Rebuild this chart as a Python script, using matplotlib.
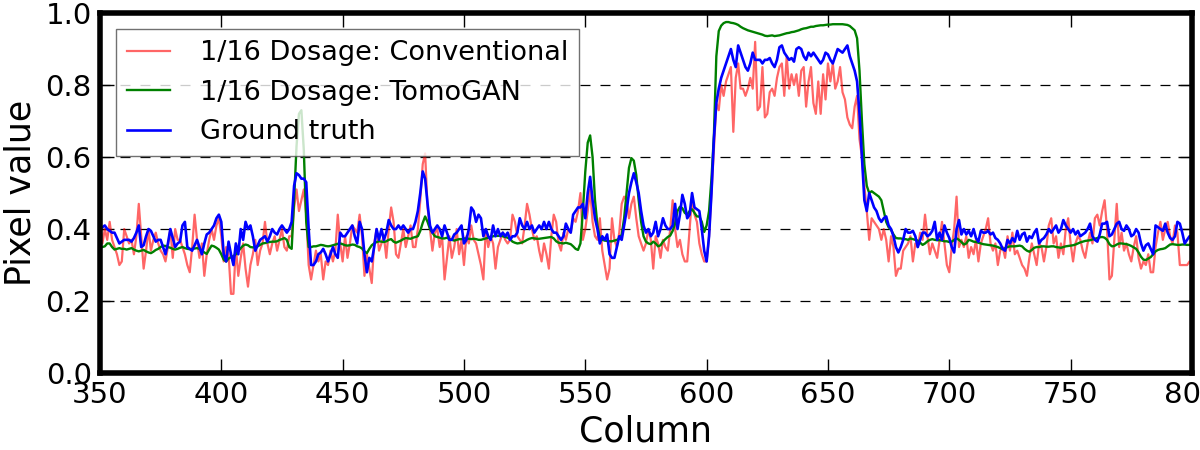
import numpy as np
import matplotlib
matplotlib.use("Agg")
import matplotlib.pyplot as plt

# pixel values along one row, columns 350..800
conventional = [
    0.43, 0.36, 0.40, 0.37, 0.42, 0.37, 0.35, 0.33, 0.30, 0.31,
    0.40, 0.38, 0.36, 0.37, 0.33, 0.38, 0.47, 0.38, 0.29, 0.34,
    0.40, 0.34, 0.37, 0.39, 0.36, 0.34, 0.33, 0.31, 0.35, 0.40,
    0.32, 0.40, 0.37, 0.37, 0.35, 0.33, 0.30, 0.28, 0.35, 0.44,
    0.37, 0.32, 0.36, 0.27, 0.33, 0.37, 0.40, 0.37, 0.41, 0.43,
    0.38, 0.31, 0.35, 0.33, 0.22, 0.22, 0.35, 0.27, 0.32, 0.36,
    0.29, 0.24, 0.30, 0.33, 0.37, 0.30, 0.34, 0.36, 0.42, 0.36,
    0.33, 0.36, 0.38, 0.34, 0.37, 0.40, 0.35, 0.34, 0.38, 0.38,
    0.46, 0.51, 0.45, 0.48, 0.51, 0.44, 0.30, 0.26, 0.30, 0.34,
    0.31, 0.33, 0.26, 0.31, 0.30, 0.34, 0.31, 0.34, 0.44, 0.36,
    0.31, 0.38, 0.32, 0.36, 0.41, 0.40, 0.39, 0.44, 0.38, 0.27,
    0.33, 0.29, 0.25, 0.36, 0.40, 0.34, 0.36, 0.38, 0.32, 0.40,
    0.46, 0.42, 0.33, 0.32, 0.36, 0.40, 0.35, 0.38, 0.41, 0.35,
    0.35, 0.40, 0.48, 0.58, 0.61, 0.46, 0.40, 0.34, 0.39, 0.40,
    0.35, 0.38, 0.26, 0.32, 0.38, 0.32, 0.35, 0.40, 0.33, 0.37,
    0.30, 0.38, 0.36, 0.41, 0.37, 0.36, 0.33, 0.30, 0.26, 0.40,
    0.35, 0.38, 0.36, 0.29, 0.35, 0.37, 0.39, 0.37, 0.36, 0.37,
    0.44, 0.42, 0.38, 0.37, 0.36, 0.41, 0.47, 0.44, 0.40, 0.37,
    0.38, 0.34, 0.31, 0.36, 0.33, 0.29, 0.38, 0.44, 0.42, 0.36,
    0.34, 0.39, 0.37, 0.40, 0.39, 0.43, 0.42, 0.45, 0.50, 0.37,
    0.40, 0.45, 0.51, 0.42, 0.38, 0.37, 0.43, 0.34, 0.30, 0.26,
    0.29, 0.43, 0.37, 0.35, 0.39, 0.47, 0.49, 0.48, 0.43, 0.47,
    0.49, 0.43, 0.38, 0.36, 0.34, 0.36, 0.40, 0.37, 0.29, 0.38,
    0.36, 0.32, 0.37, 0.35, 0.34, 0.40, 0.48, 0.40, 0.35, 0.37,
    0.33, 0.31, 0.31, 0.40, 0.49, 0.44, 0.42, 0.36, 0.33, 0.31,
    0.31, 0.38, 0.50, 0.62, 0.75, 0.73, 0.80, 0.77, 0.81, 0.83,
    0.85, 0.67, 0.82, 0.86, 0.79, 0.79, 0.77, 0.79, 0.82, 0.79,
    0.92, 0.73, 0.74, 0.85, 0.71, 0.72, 0.78, 0.79, 0.77, 0.82,
    0.85, 0.86, 0.77, 0.88, 0.79, 0.83, 0.80, 0.83, 0.77, 0.84,
    0.85, 0.74, 0.81, 0.85, 0.75, 0.72, 0.81, 0.72, 0.83, 0.76,
    0.86, 0.81, 0.86, 0.79, 0.81, 0.85, 0.78, 0.76, 0.71, 0.69,
    0.68, 0.74, 0.77, 0.65, 0.60, 0.52, 0.45, 0.37, 0.43, 0.42,
    0.41, 0.40, 0.37, 0.40, 0.37, 0.31, 0.38, 0.35, 0.27, 0.29,
    0.29, 0.34, 0.35, 0.36, 0.38, 0.31, 0.36, 0.35, 0.39, 0.37,
    0.44, 0.38, 0.33, 0.36, 0.34, 0.32, 0.37, 0.42, 0.36, 0.30,
    0.28, 0.35, 0.40, 0.49, 0.35, 0.37, 0.35, 0.38, 0.32, 0.35,
    0.33, 0.37, 0.31, 0.36, 0.38, 0.40, 0.43, 0.36, 0.34, 0.36,
    0.30, 0.34, 0.35, 0.32, 0.38, 0.34, 0.39, 0.33, 0.34, 0.32,
    0.30, 0.29, 0.27, 0.32, 0.36, 0.33, 0.30, 0.36, 0.35, 0.31,
    0.35, 0.41, 0.43, 0.36, 0.38, 0.32, 0.36, 0.33, 0.40, 0.43,
    0.36, 0.31, 0.36, 0.38, 0.37, 0.34, 0.32, 0.36, 0.39, 0.36,
    0.43, 0.44, 0.41, 0.45, 0.48, 0.40, 0.26, 0.27, 0.37, 0.47,
    0.35, 0.39, 0.34, 0.36, 0.33, 0.31, 0.35, 0.38, 0.32, 0.29,
    0.31, 0.30, 0.33, 0.28, 0.28, 0.35, 0.39, 0.42, 0.37, 0.40,
    0.42, 0.38, 0.36, 0.41, 0.39, 0.30, 0.30, 0.30, 0.30, 0.31,
    0.30,
]

tomogan = [
    0.350, 0.350, 0.352, 0.360, 0.360, 0.350, 0.343, 0.345, 0.347, 0.345,
    0.345, 0.343, 0.345, 0.347, 0.343, 0.340, 0.338, 0.340, 0.342, 0.338,
    0.335, 0.333, 0.337, 0.342, 0.345, 0.350, 0.354, 0.353, 0.350, 0.348,
    0.345, 0.343, 0.345, 0.348, 0.350, 0.347, 0.345, 0.344, 0.345, 0.346,
    0.347, 0.345, 0.340, 0.335, 0.331, 0.343, 0.354, 0.352, 0.348, 0.343,
    0.330, 0.315, 0.310, 0.318, 0.322, 0.325, 0.330, 0.338, 0.347, 0.354,
    0.357, 0.355, 0.350, 0.349, 0.350, 0.352, 0.356, 0.360, 0.361, 0.363,
    0.364, 0.365, 0.365, 0.366, 0.370, 0.372, 0.375, 0.370, 0.350, 0.345,
    0.480, 0.630, 0.720, 0.730, 0.620, 0.420, 0.350, 0.350, 0.352, 0.352,
    0.354, 0.356, 0.355, 0.353, 0.352, 0.353, 0.355, 0.357, 0.359, 0.360,
    0.358, 0.355, 0.354, 0.355, 0.357, 0.356, 0.352, 0.350, 0.346, 0.338,
    0.333, 0.345, 0.355, 0.360, 0.364, 0.366, 0.365, 0.364, 0.366, 0.370,
    0.372, 0.365, 0.362, 0.365, 0.368, 0.372, 0.375, 0.374, 0.373, 0.376,
    0.378, 0.380, 0.395, 0.417, 0.435, 0.420, 0.400, 0.390, 0.380, 0.378,
    0.376, 0.374, 0.374, 0.376, 0.372, 0.370, 0.368, 0.370, 0.372, 0.372,
    0.374, 0.374, 0.373, 0.372, 0.373, 0.372, 0.370, 0.370, 0.372, 0.374,
    0.376, 0.378, 0.380, 0.381, 0.381, 0.382, 0.380, 0.378, 0.376, 0.372,
    0.365, 0.362, 0.360, 0.361, 0.363, 0.366, 0.370, 0.373, 0.375, 0.374,
    0.373, 0.373, 0.374, 0.375, 0.376, 0.377, 0.378, 0.374, 0.366, 0.362,
    0.361, 0.360, 0.362, 0.360, 0.358, 0.352, 0.345, 0.342, 0.360, 0.450,
    0.560, 0.640, 0.660, 0.600, 0.480, 0.410, 0.375, 0.370, 0.368, 0.367,
    0.366, 0.366, 0.368, 0.370, 0.373, 0.385, 0.430, 0.500, 0.570, 0.597,
    0.590, 0.550, 0.480, 0.420, 0.380, 0.365, 0.360, 0.358, 0.365, 0.360,
    0.352, 0.355, 0.365, 0.372, 0.378, 0.382, 0.395, 0.415, 0.450, 0.462,
    0.458, 0.445, 0.440, 0.450, 0.455, 0.445, 0.435, 0.435, 0.420, 0.392,
    0.410, 0.450, 0.540, 0.660, 0.880, 0.950, 0.965, 0.972, 0.975, 0.975,
    0.973, 0.972, 0.970, 0.967, 0.962, 0.958, 0.955, 0.952, 0.950, 0.948,
    0.946, 0.944, 0.942, 0.940, 0.937, 0.936, 0.937, 0.938, 0.936, 0.937,
    0.938, 0.940, 0.942, 0.944, 0.945, 0.947, 0.948, 0.950, 0.952, 0.955,
    0.957, 0.958, 0.960, 0.962, 0.962, 0.964, 0.965, 0.966, 0.966, 0.967,
    0.968, 0.968, 0.969, 0.969, 0.969, 0.969, 0.969, 0.968, 0.967, 0.964,
    0.958, 0.952, 0.930, 0.840, 0.700, 0.580, 0.520, 0.500, 0.505, 0.500,
    0.495, 0.490, 0.480, 0.450, 0.420, 0.405, 0.398, 0.385, 0.375, 0.374,
    0.374, 0.372, 0.372, 0.370, 0.374, 0.372, 0.370, 0.368, 0.362, 0.356,
    0.360, 0.366, 0.370, 0.372, 0.370, 0.369, 0.369, 0.368, 0.366, 0.366,
    0.364, 0.365, 0.370, 0.374, 0.370, 0.364, 0.357, 0.360, 0.370, 0.368,
    0.365, 0.364, 0.362, 0.360, 0.358, 0.357, 0.356, 0.355, 0.354, 0.352,
    0.350, 0.347, 0.344, 0.347, 0.350, 0.352, 0.352, 0.352, 0.353, 0.354,
    0.352, 0.345, 0.340, 0.337, 0.342, 0.348, 0.350, 0.350, 0.352, 0.352,
    0.351, 0.351, 0.352, 0.352, 0.350, 0.349, 0.348, 0.350, 0.352, 0.353,
    0.354, 0.355, 0.357, 0.360, 0.363, 0.365, 0.367, 0.368, 0.369, 0.371,
    0.373, 0.375, 0.377, 0.378, 0.376, 0.370, 0.358, 0.352, 0.353, 0.357,
    0.360, 0.360, 0.359, 0.358, 0.356, 0.353, 0.349, 0.345, 0.335, 0.323,
    0.315, 0.314, 0.318, 0.322, 0.330, 0.338, 0.342, 0.344, 0.345, 0.347,
    0.352, 0.357, 0.358, 0.357, 0.356, 0.356, 0.357, 0.357, 0.356, 0.356,
    0.357,
]

ground_truth = [
    0.400, 0.405, 0.410, 0.400, 0.395, 0.390, 0.390, 0.375, 0.360, 0.365,
    0.370, 0.370, 0.370, 0.365, 0.375, 0.390, 0.410, 0.350, 0.355, 0.380,
    0.400, 0.395, 0.380, 0.365, 0.370, 0.370, 0.350, 0.330, 0.360, 0.400,
    0.375, 0.350, 0.360, 0.365, 0.410, 0.420, 0.350, 0.345, 0.340, 0.355,
    0.370, 0.350, 0.330, 0.360, 0.385, 0.390, 0.400, 0.410, 0.430, 0.440,
    0.420, 0.330, 0.310, 0.365, 0.330, 0.300, 0.360, 0.330, 0.400, 0.370,
    0.420, 0.400, 0.410, 0.380, 0.340, 0.355, 0.370, 0.375, 0.380, 0.365,
    0.380, 0.400, 0.390, 0.385, 0.400, 0.410, 0.400, 0.390, 0.400, 0.420,
    0.520, 0.555, 0.550, 0.540, 0.540, 0.530, 0.400, 0.300, 0.300, 0.310,
    0.330, 0.335, 0.345, 0.330, 0.310, 0.330, 0.350, 0.330, 0.320, 0.390,
    0.380, 0.380, 0.390, 0.400, 0.410, 0.380, 0.360, 0.420, 0.400, 0.330,
    0.280, 0.320, 0.310, 0.350, 0.400, 0.370, 0.400, 0.370, 0.390, 0.425,
    0.410, 0.400, 0.400, 0.410, 0.400, 0.410, 0.400, 0.390, 0.400, 0.400,
    0.420, 0.450, 0.500, 0.560, 0.540, 0.470, 0.410, 0.390, 0.400, 0.410,
    0.400, 0.380, 0.410, 0.390, 0.370, 0.370, 0.385, 0.390, 0.400, 0.410,
    0.360, 0.370, 0.400, 0.460, 0.450, 0.420, 0.440, 0.430, 0.380, 0.400,
    0.380, 0.370, 0.410, 0.380, 0.400, 0.380, 0.390, 0.380, 0.390, 0.370,
    0.380, 0.380, 0.390, 0.430, 0.410, 0.400, 0.420, 0.400, 0.410, 0.390,
    0.400, 0.410, 0.400, 0.420, 0.400, 0.420, 0.400, 0.390, 0.390, 0.380,
    0.370, 0.380, 0.415, 0.400, 0.390, 0.440, 0.450, 0.460, 0.460, 0.470,
    0.430, 0.500, 0.545, 0.480, 0.430, 0.400, 0.360, 0.380, 0.370, 0.385,
    0.330, 0.320, 0.320, 0.350, 0.380, 0.370, 0.410, 0.450, 0.500, 0.530,
    0.555, 0.530, 0.500, 0.450, 0.410, 0.390, 0.400, 0.380, 0.390, 0.420,
    0.380, 0.400, 0.430, 0.410, 0.400, 0.400, 0.410, 0.470, 0.400, 0.440,
    0.495, 0.470, 0.430, 0.440, 0.500, 0.460, 0.455, 0.450, 0.400, 0.340,
    0.310, 0.380, 0.500, 0.650, 0.750, 0.790, 0.820, 0.840, 0.860, 0.880,
    0.900, 0.870, 0.850, 0.910, 0.890, 0.870, 0.850, 0.840, 0.860, 0.890,
    0.870, 0.870, 0.870, 0.860, 0.870, 0.870, 0.875, 0.860, 0.850, 0.870,
    0.905, 0.910, 0.890, 0.880, 0.870, 0.875, 0.865, 0.900, 0.905, 0.900,
    0.880, 0.870, 0.890, 0.880, 0.890, 0.880, 0.870, 0.860, 0.870, 0.890,
    0.885, 0.870, 0.860, 0.880, 0.900, 0.895, 0.890, 0.900, 0.910, 0.880,
    0.860, 0.840, 0.810, 0.720, 0.600, 0.480, 0.450, 0.500, 0.480, 0.460,
    0.450, 0.430, 0.420, 0.430, 0.435, 0.410, 0.400, 0.380, 0.350, 0.335,
    0.350, 0.370, 0.400, 0.390, 0.390, 0.395, 0.380, 0.350, 0.370, 0.390,
    0.390, 0.380, 0.385, 0.395, 0.420, 0.370, 0.390, 0.370, 0.410, 0.390,
    0.375, 0.350, 0.335, 0.400, 0.425, 0.385, 0.400, 0.385, 0.395, 0.380,
    0.400, 0.375, 0.365, 0.395, 0.390, 0.390, 0.395, 0.385, 0.390, 0.375,
    0.370, 0.360, 0.345, 0.340, 0.370, 0.360, 0.375, 0.365, 0.395, 0.370,
    0.385, 0.390, 0.365, 0.380, 0.375, 0.390, 0.400, 0.360, 0.370, 0.375,
    0.385, 0.400, 0.390, 0.400, 0.410, 0.390, 0.400, 0.425, 0.410, 0.400,
    0.390, 0.400, 0.385, 0.395, 0.380, 0.385, 0.390, 0.400, 0.415, 0.380,
    0.370, 0.365, 0.385, 0.415, 0.415, 0.420, 0.380, 0.385, 0.400, 0.415,
    0.420, 0.400, 0.395, 0.410, 0.400, 0.380, 0.385, 0.400, 0.390, 0.360,
    0.340, 0.355, 0.360, 0.345, 0.330, 0.410, 0.405, 0.400, 0.395, 0.415,
    0.390, 0.375, 0.370, 0.380, 0.420, 0.415, 0.390, 0.360, 0.370, 0.380,
    0.370,
]

first_col = 350
columns = np.arange(first_col, first_col + len(ground_truth))
assert len(conventional) == len(tomogan) == len(ground_truth) == 451

fig = plt.figure(figsize=(12, 4.5), dpi=100)
ax = fig.add_axes([0.0833, 0.171, 0.91, 0.80])

ax.plot(columns, conventional, color="red", alpha=0.6, lw=1.6,
        label="1/16 Dosage: Conventional")
ax.plot(columns, tomogan, color="green", lw=1.7, label="1/16 Dosage: TomoGAN")
ax.plot(columns, ground_truth, color="blue", lw=1.9, label="Ground truth")

ax.set_xlim(350, 800)
ax.set_ylim(0, 1.0)
ax.set_xticks(np.arange(350, 801, 50))
ax.set_yticks(np.arange(0, 1.01, 0.2))
ax.set_yticklabels(["%.1f" % v for v in np.arange(0, 1.01, 0.2)])
ax.tick_params(direction="in", length=10, width=1, top=True, right=True,
               labelsize=21, pad=6)
ax.yaxis.grid(True, color="black", linestyle=(0, (8, 8)), lw=0.9)

for sp in ax.spines.values():
    sp.set_linewidth(4)

ax.set_xlabel("Column", fontsize=25, labelpad=4)
ax.set_ylabel("Pixel value", fontsize=25, labelpad=6)

leg = ax.legend(loc="upper left", fontsize=19.5, fancybox=False, framealpha=0.8,
                edgecolor="0.3", borderaxespad=0.6, handlelength=1.6,
                handletextpad=1.1)
leg.get_frame().set_linewidth(1)

#save
plt.savefig("out.png", dpi=100)
